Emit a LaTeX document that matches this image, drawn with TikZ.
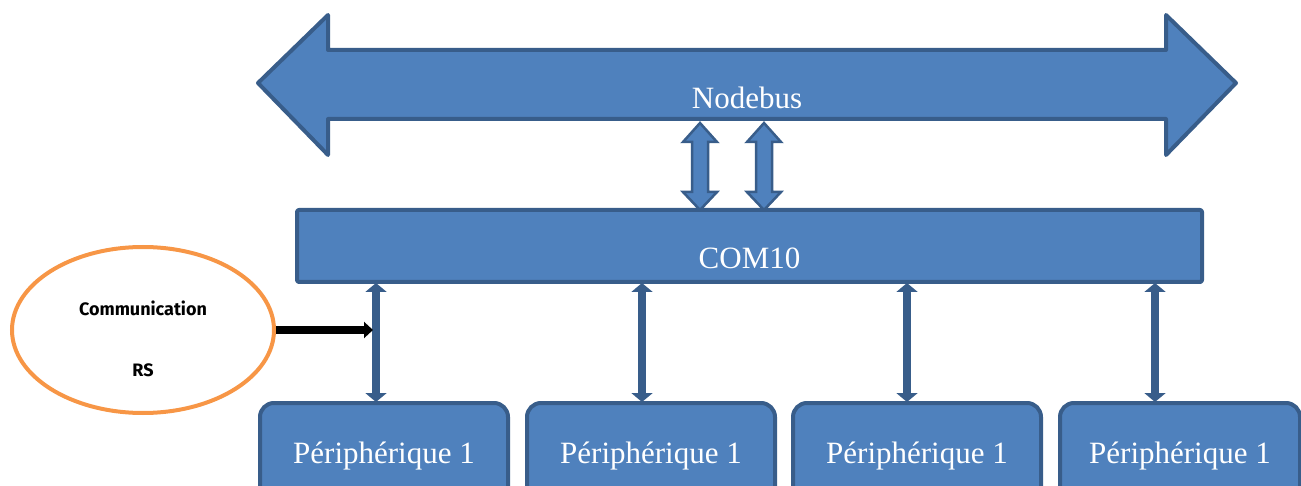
\documentclass[tikz,border=0pt]{standalone}
\usepackage{fontspec}
\setmainfont{Liberation Serif}
\newfontfamily\handfont{Fira Sans}
\usetikzlibrary{arrows.meta,shapes.geometric,calc}
\definecolor{boxfill}{HTML}{4F81BD}
\definecolor{boxline}{HTML}{385D8A}
\definecolor{orangeline}{HTML}{F79646}
\tikzset{
  blockfill/.style={fill=boxfill, draw=boxline, line width=4pt, line join=round},
  periph/.style={blockfill, rounded corners=14pt, minimum width=248pt, minimum height=100pt,
     anchor=north},
  whitetext/.style={text=white, font=\fontsize{31}{34}\selectfont},
  link/.style={draw=boxline, line width=8.5pt, {Triangle[width=21pt,length=9pt]}-{Triangle[width=21pt,length=9pt]}, shorten <=-1pt, shorten >=-1pt},
  smallarrow/.style={fill=boxfill, draw=boxline, line width=2.5pt, line join=miter},
  handtext/.style={font=\handfont\bfseries\fontsize{18}{20}\selectfont},
}
\begin{document}
\begin{tikzpicture}[x=1pt,y=-1pt]
\useasboundingbox (0,0) rectangle (1301,486);
\clip (0,0) rectangle (1301,486);
% big double arrow
\draw[blockfill] (258,83) -- (328,15) -- (328,50) -- (1166,50) -- (1166,15) -- (1236,83)
  -- (1166,155) -- (1166,119) -- (328,119) -- (328,155) -- cycle;
\node[whitetext] (bus) at (747,98) {Nodebus};
% COM10
\node[blockfill, rounded corners=2pt, minimum width=905pt, minimum height=72pt, inner sep=0pt] (com) at (749.5,246) {};
\node[whitetext] (comlabel) at (749.5,258) {COM10};
% small double arrows
\foreach \x/\n in {700/a,764/b}{
  \draw[smallarrow] (\x,123) -- (\x+17,142) -- (\x+8,142) -- (\x+8,192) -- (\x+17,192) -- (\x,210)
    -- (\x-17,192) -- (\x-8,192) -- (\x-8,142) -- (\x-17,142) -- cycle;
}
% peripherals
\node[periph] (p1) at (384,401) {};
\node[periph] (p2) at (651,401) {};
\node[periph] (p3) at (917,401) {};
\node[periph, minimum width=240pt] (p4) at (1180,401) {};
\foreach \p in {p1,p2,p3,p4}{
  \node[whitetext] at ([yshift=-55pt]\p.north) {Périphérique 1};
}
% links
\draw[link] ([xshift=-8pt]p1.north |- com.south) -- ([xshift=-8pt]p1.north);
\draw[link] ([xshift=-9pt]p2.north |- com.south) -- ([xshift=-9pt]p2.north);
\draw[link] ([xshift=-10pt]p3.north |- com.south) -- ([xshift=-10pt]p3.north);
\draw[link] ([xshift=-25pt]p4.north |- com.south) -- ([xshift=-25pt]p4.north);
% ellipse
\node[ellipse, draw=orangeline, line width=4pt, minimum width=262pt, minimum height=166pt] (rs) at (143,330) {};
\node[handtext] (t1) at (143,308) {Communication};
\node[handtext] (t2) at (143,370) {RS};
\coordinate (hit) at ([xshift=-8pt]p1.north |- rs.east);
\draw[line width=8pt, -{Triangle[width=16pt,length=9pt]}] (rs.east) -- ([xshift=-3pt]hit);
\end{tikzpicture}
\end{document}
